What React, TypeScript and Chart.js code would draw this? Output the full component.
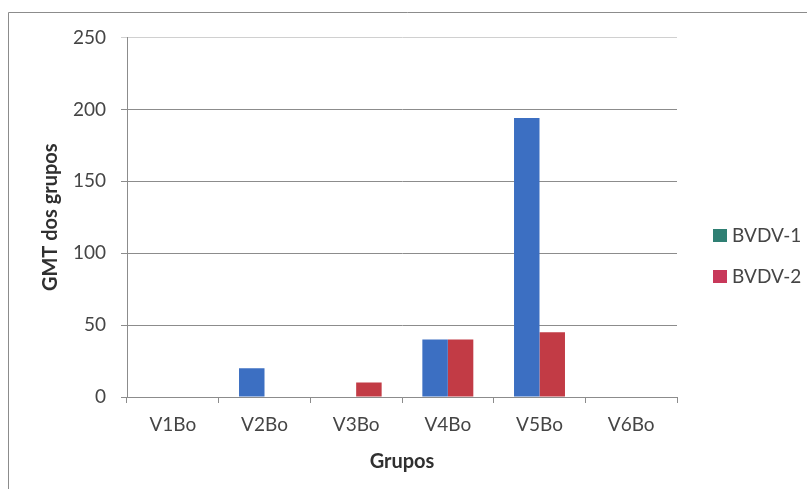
import React, { useEffect, useRef } from "react";
import { Chart, registerables } from "chart.js";

Chart.register(...registerables);

const categories = ["V1Bo", "V2Bo", "V3Bo", "V4Bo", "V5Bo", "V6Bo"];
const bvdv1 = [0, 20, 0, 40, 194, 0];
const bvdv2 = [0, 0, 10, 40, 45, 0];
const seriesNames = ["BVDV-1", "BVDV-2"];
const yTitle = "GMT dos grupos";
const xTitle = "Grupos";
const barColors = ["#3c6fc2", "#c23b45"];
const legendSwatches = ["#2f7f73", "#c8385a"];

const FONT = "Lato, 'Open Sans', sans-serif";

// Outer frame, vertical axis title and right-hand legend
const framePlugin = {
  id: "frame",
  beforeDraw(chart: any) {
    const ctx = chart.ctx;
    ctx.save();
    ctx.fillStyle = "#ffffff";
    ctx.fillRect(0, 0, chart.width, chart.height);
    ctx.strokeStyle = "#8c8c8c";
    ctx.lineWidth = 1;
    ctx.beginPath();
    ctx.moveTo(8.5, chart.height);
    ctx.lineTo(8.5, 12.5);
    ctx.lineTo(chart.width, 12.5);
    ctx.stroke();
    ctx.restore();
  },
  afterDraw(chart: any) {
    const ctx = chart.ctx;
    const area = chart.chartArea;
    ctx.save();
    ctx.translate(51, (area.top + area.bottom) / 2);
    ctx.rotate(-Math.PI / 2);
    ctx.font = `bold 20px ${FONT}`;
    ctx.fillStyle = "#303030";
    ctx.textAlign = "center";
    ctx.textBaseline = "middle";
    ctx.fillText(yTitle, 0, 0);
    ctx.restore();

    ctx.save();
    ctx.font = `19px ${FONT}`;
    ctx.textBaseline = "middle";
    ctx.textAlign = "left";
    const rows = [236, 277];
    chart.data.datasets.forEach((ds: any, i: number) => {
      const y = rows[i];
      ctx.fillStyle = legendSwatches[i];
      ctx.fillRect(713, y - 7, 14, 13);
      ctx.fillStyle = "#454545";
      ctx.fillText(ds.label, 732, y);
    });
    ctx.restore();
  },
};

export default function App() {
  const ref = useRef<HTMLCanvasElement>(null);

  useEffect(() => {
    if (!ref.current) return;
    const chart = new Chart(ref.current, {
      type: "bar",
      data: {
        labels: categories,
        datasets: [
          { label: seriesNames[0], data: bvdv1, backgroundColor: barColors[0] },
          { label: seriesNames[1], data: bvdv2, backgroundColor: barColors[1] },
        ],
      },
      plugins: [framePlugin],
      options: {
        responsive: false,
        animation: false,
        devicePixelRatio: 1,
        layout: { padding: { left: 8, top: 37.5, right: 130, bottom: 0 } },
        datasets: {
          bar: { barPercentage: 1, categoryPercentage: 0.556 },
        },
        plugins: {
          legend: { display: false },
          tooltip: { enabled: false },
        },
        scales: {
          x: {
            afterFit: (s: any) => {
              s.height = 92;
            },
            grid: {
              offset: true,
              drawOnChartArea: false,
              drawTicks: true,
              tickLength: 6,
              color: "#8c8c8c",
            },
            border: { color: "#8c8c8c" },
            ticks: {
              padding: 10,
              color: "#454545",
              font: { family: FONT, size: 19 },
            },
            title: {
              display: true,
              text: xTitle,
              color: "#303030",
              font: { family: FONT, size: 20, weight: "bold" },
              padding: { top: 0, bottom: 15 },
            },
          },
          y: {
            min: 0,
            max: 250,
            afterFit: (s: any) => {
              s.width = 119;
            },
            ticks: {
              stepSize: 50,
              padding: 15,
              color: "#454545",
              font: { family: FONT, size: 19 },
            },
            grid: {
              color: (c: any) => (c.tick && c.tick.value === 250 ? "#d0d0d0" : "#8c8c8c"),
              tickLength: 6,
            },
            border: { color: "#8c8c8c" },
          },
        },
      },
    });
    return () => chart.destroy();
  }, []);

  return (
    <div style={{ position: "absolute", left: 0, top: 0, width: 807, height: 489 }}>
      <canvas ref={ref} width={807} height={489} />
    </div>
  );
}
